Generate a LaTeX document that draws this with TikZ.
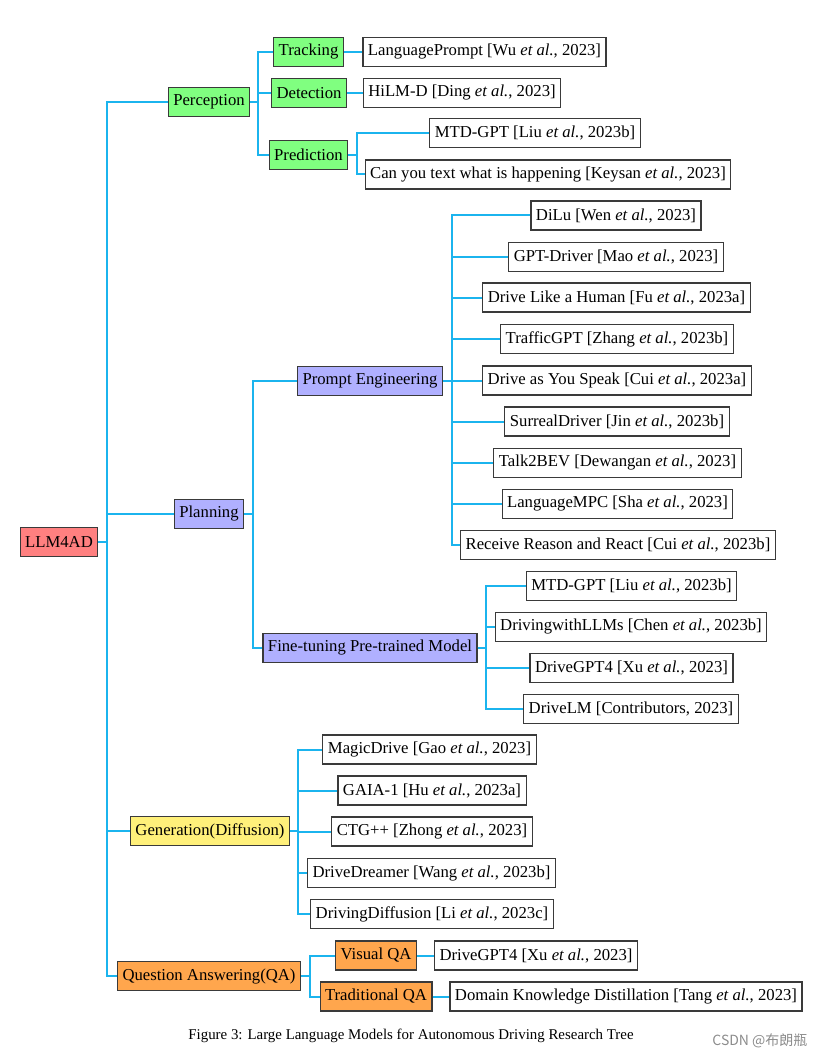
\documentclass[tikz,border=0pt]{standalone}
\usepackage{fontspec}
\setmainfont{Liberation Serif}
\newfontfamily\cjkfont{Noto Sans CJK SC}
\definecolor{linkc}{HTML}{1BB4EE}
\definecolor{boxred}{HTML}{FF8080}
\definecolor{boxgreen}{HTML}{80FF80}
\definecolor{boxblue}{HTML}{B0B0FF}
\definecolor{boxyellow}{HTML}{FFF07A}
\definecolor{boxorange}{HTML}{FFA64D}
\definecolor{boxborder}{HTML}{3A3A3A}
\newcommand{\etal}{\textit{et al.}}
\begin{document}
\begin{tikzpicture}[x=1pt,y=-1pt,
  box/.style={draw=boxborder,line width=1.1pt,inner xsep=5pt,inner ysep=0pt,minimum height=29pt,
    font=\fontsize{16.7}{19}\selectfont,anchor=center},
  root/.style={box,fill=boxred},
  gbox/.style={box,fill=boxgreen},
  bbox/.style={box,fill=boxblue},
  ybox/.style={box,fill=boxyellow},
  obox/.style={box,fill=boxorange},
  leaf/.style={box,fill=white},
  link/.style={draw=linkc,line width=2pt}]
\useasboundingbox (0,0) rectangle (825,1059);
% root
\node[root] (root) at (59,542) {LLM4AD};
% level 1
\node[gbox] (perc) at (209,102) {Perception};
\node[bbox] (plan) at (209,514) {Planning};
\node[ybox] (gen) at (210,831) {Generation(Diffusion)};
\node[obox] (qa) at (209,976) {Question Answering(QA)};
% perception children
\node[gbox] (track) at (308.5,52) {Tracking};
\node[gbox] (detect) at (309,93) {Detection};
\node[gbox] (pred) at (308.5,155) {Prediction};
\node[leaf] (lp) at (484.5,52) {LanguagePrompt [Wu \etal, 2023]};
\node[leaf] (hilm) at (462,93) {HiLM-D [Ding \etal, 2023]};
\node[leaf] (mtd1) at (535,133) {MTD-GPT [Liu \etal, 2023b]};
\node[leaf] (cyt) at (548,174.5) {Can you text what is happening [Keysan \etal, 2023]};
% planning children
\node[bbox] (pe) at (370,381) {Prompt Engineering};
\node[bbox] (ft) at (370,648) {Fine-tuning Pre-trained Model};
\node[leaf] (dilu) at (616,215.5) {DiLu [Wen \etal, 2023]};
\node[leaf] (gptd) at (616,257) {GPT-Driver [Mao \etal, 2023]};
\node[leaf] (dlah) at (616.5,297.5) {Drive Like a Human [Fu \etal, 2023a]};
\node[leaf] (tgpt) at (617,339) {TrafficGPT [Zhang \etal, 2023b]};
\node[leaf] (days) at (617,380.5) {Drive as You Speak [Cui \etal, 2023a]};
\node[leaf] (surr) at (617,421.5) {SurrealDriver [Jin \etal, 2023b]};
\node[leaf] (t2b) at (617.5,463) {Talk2BEV [Dewangan \etal, 2023]};
\node[leaf] (lmpc) at (617.5,504) {LanguageMPC [Sha \etal, 2023]};
\node[leaf] (rrr) at (618,545) {Receive Reason and React [Cui \etal, 2023b]};
\node[leaf] (mtd2) at (631.5,586) {MTD-GPT [Liu \etal, 2023b]};
\node[leaf] (dwl) at (631,627) {DrivingwithLLMs [Chen \etal, 2023b]};
\node[leaf] (dg4a) at (631.5,668) {DriveGPT4 [Xu \etal, 2023]};
\node[leaf] (dlm) at (631,709) {DriveLM [Contributors, 2023]};
% generation children
\node[leaf] (magic) at (429.5,749.5) {MagicDrive [Gao \etal, 2023]};
\node[leaf] (gaia) at (432,790.5) {GAIA-1 [Hu \etal, 2023a]};
\node[leaf] (ctg) at (432,831.5) {CTG++ [Zhong \etal, 2023]};
\node[leaf] (dd) at (431.5,873) {DriveDreamer [Wang \etal, 2023b]};
\node[leaf] (ddiff) at (432,914) {DrivingDiffusion [Li \etal, 2023c]};
% QA children
\node[obox] (vqa) at (376,955.5) {Visual QA};
\node[obox] (tqa) at (376,996.5) {Traditional QA};
\node[leaf] (dg4b) at (536,955.5) {DriveGPT4 [Xu \etal, 2023]};
\node[leaf] (dkd) at (626,996.5) {Domain Knowledge Distillation [Tang \etal, 2023]};
% fork coordinates
\coordinate (fR) at (107,542);
\coordinate (fP) at (258,102);
\coordinate (fPr) at (357,155);
\coordinate (fPl) at (253,514);
\coordinate (fPE) at (452,381);
\coordinate (fFT) at (486,648);
\coordinate (fG) at (298,831);
\coordinate (fQ) at (310,976);
% connectors
\foreach \c in {perc,plan,gen,qa} \draw[link] (root.east) -- (fR) |- (\c.west);
\foreach \c in {track,detect,pred} \draw[link] (perc.east) -- (fP) |- (\c.west);
\draw[link] (track.east) -- (lp.west);
\draw[link] (detect.east) -- (hilm.west);
\foreach \c in {mtd1,cyt} \draw[link] (pred.east) -- (fPr) |- (\c.west);
\foreach \c in {pe,ft} \draw[link] (plan.east) -- (fPl) |- (\c.west);
\foreach \c in {dilu,gptd,dlah,tgpt,days,surr,t2b,lmpc,rrr} \draw[link] (pe.east) -- (fPE) |- (\c.west);
\foreach \c in {mtd2,dwl,dg4a,dlm} \draw[link] (ft.east) -- (fFT) |- (\c.west);
\foreach \c in {magic,gaia,ctg,dd,ddiff} \draw[link] (gen.east) -- (fG) |- (\c.west);
\foreach \c in {vqa,tqa} \draw[link] (qa.east) -- (fQ) |- (\c.west);
\draw[link] (vqa.east) -- (dg4b.west);
\draw[link] (tqa.east) -- (dkd.west);
% caption and watermark
\node[font=\fontsize{14.9}{17}\selectfont] (cap) at (411,1036) {Figure 3: Large Language Models for Autonomous Driving Research Tree};
\node[font=\cjkfont\fontsize{14}{16}\selectfont,text=black!45,anchor=east] (wm) at (811,1041) {CSDN @布朗瓶};
\end{tikzpicture}
\end{document}
